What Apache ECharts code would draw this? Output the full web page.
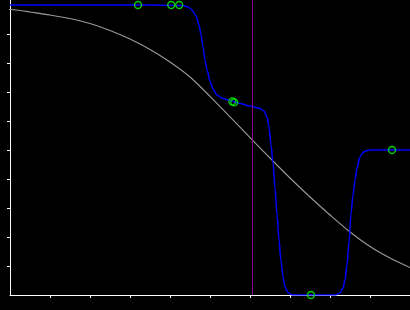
<!DOCTYPE html>
<html>
<head>
<meta charset="utf-8">
<script src="https://cdn.jsdelivr.net/npm/echarts@6/dist/echarts.min.js"></script>
<style>
html,body{margin:0;padding:0;background:#000;}
#c{width:410px;height:310px;}
</style>
</head>
<body>
<div id="c"></div>
<script>
// Gray reference curve
var grayX = [-0.25, 0, 0.25, 0.5, 1.0, 1.5, 2.0, 2.5, 3.0, 3.5, 4.0, 4.5, 5.0, 5.5, 6.0, 6.5, 7.0, 7.5, 8.0, 8.5, 9.0, 9.5, 10];
var grayY = [9.85, 9.845, 9.81, 9.76, 9.655, 9.534, 9.362, 9.121, 8.828, 8.466, 8.034, 7.517, 6.85, 6.14, 5.43, 4.724, 4.034, 3.379, 2.759, 2.172, 1.672, 1.276, 0.948];

// Blue fitted curve
var blueX = [0, 3.5, 4.325, 4.45, 4.55, 4.65, 4.725, 4.775, 4.825, 4.875, 4.925, 5.0, 5.075, 5.175, 5.325, 5.5, 5.75, 6.0, 6.25, 6.35, 6.425, 6.475, 6.525, 6.575, 6.625, 6.675, 6.725, 6.775, 6.825, 6.875, 6.95, 7.05, 8.15, 8.25, 8.325, 8.375, 8.425, 8.475, 8.525, 8.575, 8.625, 8.675, 8.75, 8.825, 8.9, 9.0, 10];
var blueY = [10, 10, 9.983, 9.931, 9.828, 9.621, 9.31, 8.966, 8.552, 8.103, 7.759, 7.379, 7.103, 6.897, 6.776, 6.707, 6.603, 6.517, 6.431, 6.345, 6.138, 5.793, 5.172, 4.552, 3.69, 2.759, 1.897, 1.172, 0.621, 0.276, 0.086, 0, 0, 0.069, 0.241, 0.517, 1.034, 1.828, 2.793, 3.448, 3.966, 4.379, 4.759, 4.914, 4.972, 5.0, 5.0];

// Green sample points
var pointX = [3.2, 4.03, 4.23, 5.558, 5.608, 7.525, 9.55];
var pointY = [10, 10, 10, 6.672, 6.64, 0, 5.0];

// Vertical marker position
var markerX = 6.05;

// Tick values
var xTicks = [1, 2, 3, 4, 5, 6, 7, 8, 9];
var yTicks = [1, 2, 3, 4, 5, 6, 7, 8, 9];

function zip(a, b) { return a.map(function (v, i) { return [v, b[i]]; }); }

var chart = echarts.init(document.getElementById('c'), null, {renderer: 'canvas'});
chart.setOption({
  backgroundColor: '#000',
  animation: false,
  grid: {left: 10, right: 0, top: 0, bottom: 15, containLabel: false},
  xAxis: {
    type: 'value', min: 0, max: 10, interval: 1,
    axisLine: {show: true, onZero: false, lineStyle: {color: '#fff', width: 1}},
    axisTick: {show: true, length: 3, customValues: xTicks, lineStyle: {color: '#fff', width: 1}},
    axisLabel: {show: false},
    splitLine: {show: false}
  },
  yAxis: {
    type: 'value', min: 0, max: 295 / 29, interval: 1,
    axisLine: {show: true, onZero: false, lineStyle: {color: '#fff', width: 1}},
    axisTick: {show: true, length: 3, customValues: yTicks, lineStyle: {color: '#fff', width: 1}},
    axisLabel: {show: false},
    splitLine: {show: false}
  },
  series: [
    {
      type: 'line', data: zip(grayX, grayY), smooth: 0.3, clip: false,
      showSymbol: false, symbol: 'none', lineStyle: {color: '#9a9a9a', width: 1.1}, z: 2
    },
    {
      type: 'line', data: zip(blueX, blueY), smooth: 0.3, smoothMonotone: 'x',
      showSymbol: false, symbol: 'none', lineStyle: {color: '#0000ff', width: 1.5}, z: 3,
      markLine: {
        silent: true, symbol: 'none', label: {show: false},
        lineStyle: {color: '#8a0a8a', width: 1, type: 'solid'},
        data: [{xAxis: markerX}]
      }
    },
    {
      type: 'scatter', data: zip(pointX, pointY), symbol: 'circle', symbolSize: 7,
      itemStyle: {color: 'rgba(0,0,0,0)', borderColor: '#00ff00', borderWidth: 1.3}, z: 5
    }
  ]
});
</script>
</body>
</html>
